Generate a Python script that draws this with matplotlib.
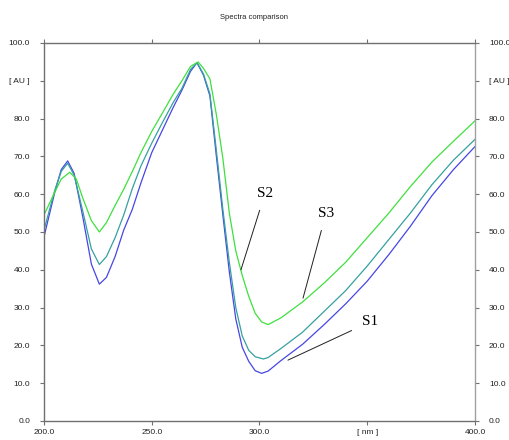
import matplotlib
matplotlib.use("Agg")
import matplotlib.pyplot as plt

# wavelengths (nm) and absorbance readings (AU) for the three spectra
wl_s1 = [200, 205, 208, 211, 214, 218, 222, 225.7, 229, 233, 237, 241, 245, 250, 255, 260, 264, 268, 271,
         274, 277, 280, 283, 286, 289, 292, 295, 298, 301, 304, 310, 320, 330, 340, 350, 360, 370, 380, 390, 400]
ab_s1 = [48.7, 60.5, 66.5, 68.8, 65.5, 54.0, 41.5, 36.2, 38.0, 43.5, 50.5, 56.0, 63.0, 71.0, 77.0, 83.0, 87.5, 92.5, 94.8,
         91.5, 86.0, 70.0, 54.5, 39.5, 27.0, 19.5, 15.8, 13.3, 12.6, 13.2, 16.0, 20.3, 25.5, 31.0, 37.0, 44.0, 51.5, 59.6, 66.5, 72.6]

wl_s2 = [200, 205, 208, 211, 214, 218, 222, 225.7, 229, 233, 237, 241, 245, 250, 255, 260, 264, 268, 271,
         274, 277, 280, 283, 286, 289, 292, 295, 298, 301.8, 304, 310, 320, 330, 340, 350, 360, 370, 380, 390, 400]
ab_s2 = [50.5, 61.0, 66.0, 68.2, 65.0, 55.5, 45.5, 41.4, 43.5, 48.5, 54.5, 61.5, 67.5, 73.5, 79.0, 84.3, 88.0, 93.0, 94.8,
         91.8, 86.5, 71.5, 56.0, 42.0, 30.0, 22.5, 18.7, 17.0, 16.4, 16.8, 19.2, 23.5, 29.0, 34.5, 41.0, 48.0, 55.0, 62.5, 69.0, 74.5]

wl_s3 = [200, 205, 208, 212, 215, 218, 222, 225.7, 229, 233, 237, 241, 245, 250, 255, 260, 264, 268, 271.5,
         274, 277, 280, 283, 286, 289, 292, 295, 298, 301, 304, 310, 320, 330, 340, 350, 360, 370, 380, 390, 400]
ab_s3 = [54.5, 60.5, 64.0, 65.8, 64.0, 59.0, 53.0, 50.0, 52.5, 57.0, 61.3, 66.0, 71.0, 76.6, 81.5, 86.5, 90.0, 93.8, 95.0,
         93.3, 90.5, 81.0, 69.5, 55.0, 45.0, 38.5, 33.0, 28.5, 26.2, 25.5, 27.3, 31.5, 36.5, 42.0, 48.5, 55.0, 62.0, 68.5, 74.0, 79.4]

x_ticks = [200, 250, 300, 350, 400]
x_labels = ["200.0", "250.0", "300.0", "[ nm ]", "400.0"]
y_ticks = [0, 10, 20, 30, 40, 50, 60, 70, 80, 90, 100]
y_labels = ["0.0", "10.0", "20.0", "30.0", "40.0", "50.0", "60.0", "70.0", "80.0", "[ AU ]", "100.0"]

plt.rcParams["font.family"] = ["Liberation Sans", "DejaVu Sans"]

fig = plt.figure(figsize=(5.09, 4.40), dpi=100)
ax = fig.add_axes([0.0864, 0.0432, 0.8468, 0.8591])

ax.plot(wl_s1, ab_s1, color="#4646e6", lw=0.9)
ax.plot(wl_s2, ab_s2, color="#36a0a0", lw=0.9)
ax.plot(wl_s3, ab_s3, color="#3ee03e", lw=0.9)

ax.set_xlim(200, 400)
ax.set_ylim(0, 100)
ax.set_xticks(x_ticks)
ax.set_xticklabels(x_labels)
ax.set_yticks(y_ticks)
ax.set_yticklabels(y_labels)
ax.tick_params(axis="both", direction="out", length=3, width=0.8, colors="#707070",
               labelsize=6, labelcolor="#222222", pad=7)
ax.tick_params(axis="x", pad=3)
ax.tick_params(top=True, right=True, labelright=True)
for s in ax.spines.values():
    s.set_color("#707070")
    s.set_linewidth(1.0)
ax.spines["right"].set_color("#a0a0a0")

fig.text(0.5, 0.960, "Spectra comparison", ha="center", va="center", fontsize=5.5, color="#222222")

# sample labels with leader lines
ann = dict(fontsize=11, family="Liberation Serif", ha="center", va="center",
           arrowprops=dict(arrowstyle="-", color="#202020", lw=0.7, shrinkA=6, shrinkB=0))
ax.annotate("S2", xy=(291.4, 40.0), xytext=(302.6, 60.3), **ann)
ax.annotate("S3", xy=(320.2, 32.5), xytext=(330.9, 55.0), **ann)
ax.annotate("S1", xy=(313.2, 16.1), xytext=(351.3, 26.2), **ann)

fig.savefig("out.png", dpi=100)
